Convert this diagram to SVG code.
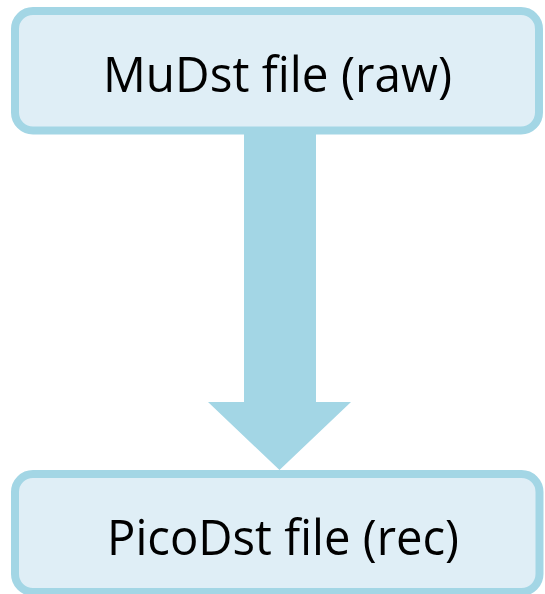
<svg xmlns="http://www.w3.org/2000/svg" width="545" height="594" viewBox="0 0 545 594">
  <style>
    .box { fill: #DFEEF6; stroke: #A3D6E5; stroke-width: 8; }
    .label { font-family: "Open Sans", "Noto Sans", "DejaVu Sans", sans-serif; font-size: 50px; fill: #000000; }
    .flow { fill: #A3D6E5; }
  </style>
  <rect width="545" height="594" fill="#FFFFFF"/>
  <g id="connectors">
    <polygon class="flow" points="244,130 316,130 316,402 351,402 279.5,470 208,402 244,402"/>
  </g>
  <g id="node-mudst">
    <rect class="box" x="15" y="11" width="524" height="119.5" rx="18" ry="18"/>
    <text class="label" x="103" y="92" textLength="349" lengthAdjust="spacingAndGlyphs">MuDst file (raw)</text>
  </g>
  <g id="node-picodst">
    <rect class="box" x="15" y="474" width="524.5" height="118" rx="18" ry="18"/>
    <text class="label" x="107" y="555" textLength="352" lengthAdjust="spacingAndGlyphs">PicoDst file (rec)</text>
  </g>
</svg>
